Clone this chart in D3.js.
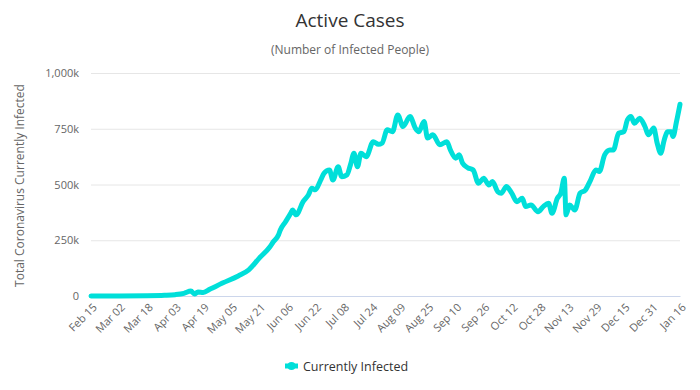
<!DOCTYPE html>
<html><head><meta charset="utf-8">
<script src="https://cdn.jsdelivr.net/npm/d3@7"></script>
<style>body{margin:0;background:#fff;} svg{display:block;font-family:"Open Sans",Lato,sans-serif;}</style>
</head><body>
<svg id="c" width="700" height="390"></svg>
<script>
const dates = ["2020-02-15","2020-03-02","2020-03-18","2020-03-28","2020-04-03","2020-04-08","2020-04-12","2020-04-14","2020-04-16","2020-04-19","2020-04-23","2020-04-30","2020-05-09","2020-05-15","2020-05-21","2020-05-27","2020-05-29","2020-06-01","2020-06-02","2020-06-05","2020-06-08","2020-06-09","2020-06-11","2020-06-15","2020-06-18","2020-06-20","2020-06-22","2020-06-25","2020-06-27","2020-06-30","2020-07-02","2020-07-05","2020-07-07","2020-07-10","2020-07-12","2020-07-14","2020-07-16","2020-07-18","2020-07-21","2020-07-25","2020-07-28","2020-07-30","2020-08-02","2020-08-05","2020-08-08","2020-08-11","2020-08-15","2020-08-18","2020-08-20","2020-08-23","2020-08-25","2020-08-28","2020-09-01","2020-09-05","2020-09-07","2020-09-10","2020-09-12","2020-09-14","2020-09-17","2020-09-20","2020-09-23","2020-09-26","2020-09-29","2020-10-01","2020-10-04","2020-10-06","2020-10-09","2020-10-12","2020-10-15","2020-10-18","2020-10-20","2020-10-23","2020-10-27","2020-10-30","2020-11-02","2020-11-04","2020-11-07","2020-11-09","2020-11-11","2020-11-12","2020-11-14","2020-11-17","2020-11-20","2020-11-23","2020-11-26","2020-11-29","2020-12-01","2020-12-04","2020-12-07","2020-12-09","2020-12-12","2020-12-15","2020-12-17","2020-12-19","2020-12-21","2020-12-24","2020-12-27","2020-12-29","2021-01-01","2021-01-03","2021-01-05","2021-01-07","2021-01-09","2021-01-11","2021-01-12","2021-01-14","2021-01-16"];
const infected = [0,200,1000,3000,6000,12000,22000,9000,18000,16000,31000,58000,90000,117000,170000,220000,243000,275000,296000,333000,372000,386000,364000,423000,453000,483000,476000,520000,551000,565000,520000,580000,535000,543000,588000,640000,580000,640000,625000,692000,680000,685000,745000,737000,812000,760000,805000,753000,737000,782000,708000,723000,678000,692000,655000,618000,633000,595000,575000,565000,506000,528000,498000,513000,468000,461000,491000,461000,423000,438000,401000,408000,378000,401000,416000,371000,438000,461000,528000,364000,408000,386000,461000,475000,520000,565000,558000,633000,655000,655000,730000,737000,790000,805000,775000,797000,760000,723000,753000,685000,640000,700000,737000,737000,715000,782000,860000];
const xTickLabels = ["Feb 15","Mar 02","Mar 18","Apr 03","Apr 19","May 05","May 21","Jun 06","Jun 22","Jul 08","Jul 24","Aug 09","Aug 25","Sep 10","Sep 26","Oct 12","Oct 28","Nov 13","Nov 29","Dec 15","Dec 31","Jan 16"];
const yTicks = [0,250000,500000,750000,1000000];
const yTickLabels = ["0","250k","500k","750k","1,000k"];

const parse = d3.timeParse("%Y-%m-%d");
const data = dates.map((d,i)=>({date:parse(d), v:infected[i]}));
const svg = d3.select("#c");
const L=91, R=680, T=73, B=296;
const x = d3.scaleTime().domain([parse("2020-02-15"), parse("2021-01-16")]).range([L,R]);
const y = d3.scaleLinear().domain([0,1000000]).range([B,T]);
const tickDates = xTickLabels.map((_,i)=>d3.timeDay.offset(parse("2020-02-15"), i*16));

svg.append("text").attr("x",350).attr("y",27).attr("text-anchor","middle")
  .attr("font-size",19).attr("fill","#333").text("Active Cases");
svg.append("text").attr("x",350).attr("y",54).attr("text-anchor","middle")
  .attr("font-size",12).attr("fill","#666").text("(Number of Infected People)");

const yAxis = d3.axisLeft(y).tickValues(yTicks).tickSize(-(R-L)).tickFormat((d,i)=>yTickLabels[i]);
const gy = svg.append("g").attr("transform",`translate(${L},0)`).call(yAxis);
gy.select(".domain").remove();
gy.selectAll(".tick line").attr("stroke","#e6e6e6");
gy.selectAll(".tick text").attr("fill","#666").attr("font-size",11).attr("font-family","'Open Sans',sans-serif").attr("x",-12);

svg.append("text").attr("transform",`translate(24,${(T+B)/2 + 1}) rotate(-90)`).attr("text-anchor","middle")
  .attr("font-size",12).attr("fill","#666").text("Total Coronavirus Currently Infected");

const xAxis = d3.axisBottom(x).tickValues(tickDates).tickSize(0).tickFormat((d,i)=>xTickLabels[i]);
const gx = svg.append("g").attr("transform",`translate(0,${B})`).call(xAxis);
gx.select(".domain").attr("stroke","#ccd6eb");
gx.selectAll(".tick text").attr("fill","#666").attr("font-size",11).attr("font-family","'Open Sans',sans-serif")
  .attr("text-anchor","end").attr("dy",0).attr("transform","translate(4,10) rotate(-45)");

const line = d3.line().x(d=>x(d.date)).y(d=>y(d.v)).curve(d3.curveMonotoneX);
svg.append("path").datum(data).attr("d",line).attr("fill","none").attr("stroke","#00dfd9")
  .attr("stroke-width",5).attr("stroke-linejoin","round").attr("stroke-linecap","round");

svg.append("line").attr("x1",285).attr("x2",298).attr("y1",366).attr("y2",366).attr("stroke","#00dfd9").attr("stroke-width",5);
svg.append("circle").attr("cx",291.5).attr("cy",366).attr("r",4).attr("fill","#00dfd9");
svg.append("text").attr("x",303).attr("y",370.5).attr("font-size",12.5).attr("fill","#333").text("Currently Infected");
</script>
</body></html>
